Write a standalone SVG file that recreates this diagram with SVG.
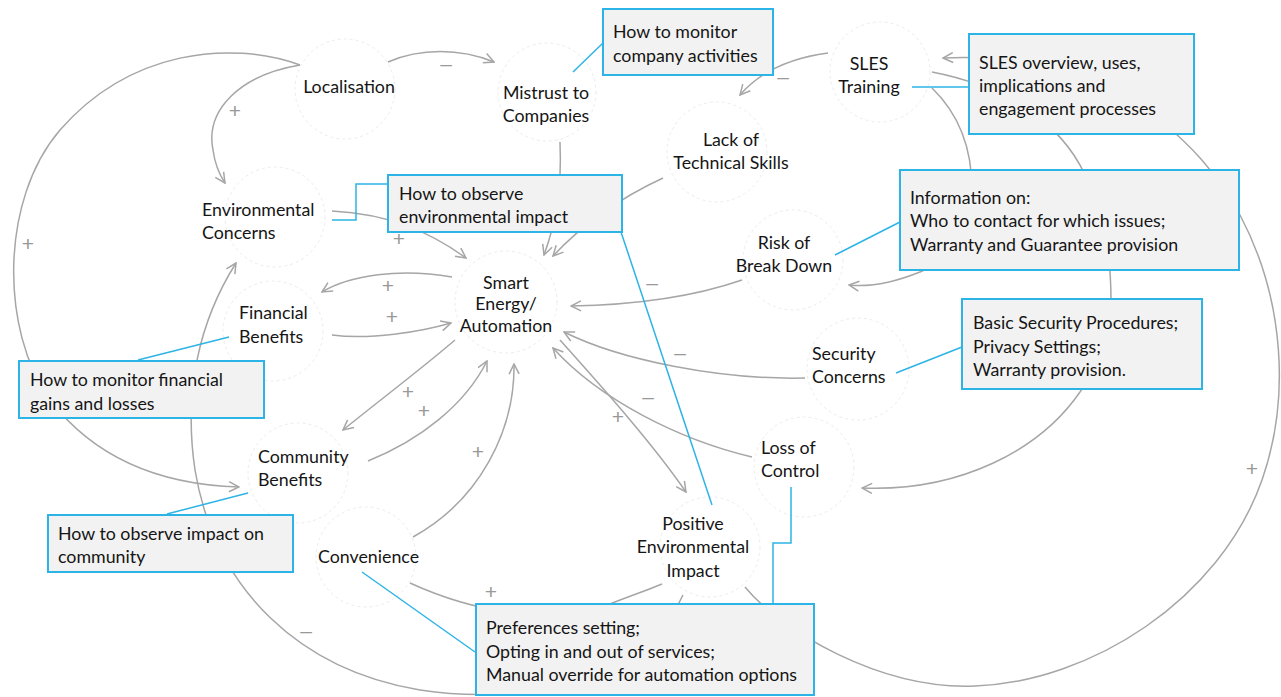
<svg xmlns="http://www.w3.org/2000/svg" width="1281" height="697" viewBox="0 0 1281 697">
<defs>
<marker id="arr" viewBox="0 0 12 12" refX="11" refY="6" markerWidth="12" markerHeight="12" markerUnits="userSpaceOnUse" orient="auto">
<path d="M1,1 L11,6 L1,11" fill="none" stroke="#a6a6a6" stroke-width="1.5"/>
</marker>
<style>
.bg{fill:#ffffff}
.node circle{fill:none;stroke:#ececec;stroke-width:1;stroke-dasharray:3 3}
.t{font-family:Lato,"Liberation Sans",sans-serif;font-size:17.8px;fill:#151515}
.c{text-anchor:middle}
.con path{fill:none;stroke:#a6a6a6;stroke-width:1.5}
.arrow{marker-end:url(#arr)}
.sign{font-family:"Liberation Sans",sans-serif;font-size:21px;fill:#999999;text-anchor:middle}
.box rect{fill:#f2f2f2;stroke:#2db4e6;stroke-width:2}
.lead{fill:none;stroke:#2db4e6;stroke-width:1.5}
</style>
</defs>
<rect class="bg" x="0" y="0" width="1281" height="697"/>

<g id="circles">
<g class="node"><circle cx="345" cy="89" r="50"/></g>
<g class="node"><circle cx="547" cy="92" r="49"/></g>
<g class="node"><circle cx="880" cy="72" r="50"/></g>
<g class="node"><circle cx="717" cy="152" r="50"/></g>
<g class="node"><circle cx="275" cy="217" r="50"/></g>
<g class="node"><circle cx="273" cy="331" r="50"/></g>
<g class="node"><circle cx="506" cy="302" r="51"/></g>
<g class="node"><circle cx="793" cy="260" r="50"/></g>
<g class="node"><circle cx="858" cy="369" r="51"/></g>
<g class="node"><circle cx="804" cy="467" r="50"/></g>
<g class="node"><circle cx="298" cy="473" r="50"/></g>
<g class="node"><circle cx="366" cy="557" r="50"/></g>
<g class="node"><circle cx="710" cy="547" r="50"/></g>
</g>

<g id="connectors" class="con">
<path class="arrow" d="M388,62 C420,48 460,48 494,62"/>
<path class="arrow" d="M300,65 C240,75 205,110 213,150 C215,165 219,174 225,183"/>
<path class="arrow" d="M300,65 C230,40 130,50 60,130 C0,200 0,330 50,400 C100,465 170,485 239,487"/>
<path class="arrow" d="M332,211 C390,214 430,232 466,258"/>
<path class="arrow" d="M560,142 C562,190 556,222 544,255"/>
<path class="arrow" d="M663,178 C620,198 582,225 553,256"/>
<path class="arrow" d="M828,53 C790,58 760,72 740,95"/>
<path class="arrow" d="M742,280 C690,298 630,305 571,306"/>
<path class="arrow" d="M805,378 C720,380 620,360 564,332"/>
<path class="arrow" d="M752,457 C680,440 600,400 553,348"/>
<path class="arrow" d="M560,340 C600,385 650,440 686,492"/>
<path class="arrow" d="M452,277 C400,268 350,275 322,292"/>
<path class="arrow" d="M332,335 C370,340 420,332 451,323"/>
<path class="arrow" d="M455,340 C420,370 380,400 343,430"/>
<path class="arrow" d="M368,461 C420,440 465,405 487,361"/>
<path class="arrow" d="M413,537 C480,500 515,430 514,364"/>
<path d="M410,583 C480,615 560,625 610,604 C630,596 648,590 662,584"/>
<path class="arrow" d="M683,595 C640,685 520,705 420,690 C300,670 215,590 195,470 C183,390 200,320 236,263"/>
<path class="arrow" d="M745,587 C780,630 880,690 975,686 C1090,682 1220,600 1262,480 C1290,400 1285,300 1240,215 C1215,170 1190,145 1160,120 C1090,65 1010,55 943,58"/>
<path class="arrow" d="M932,72 C1000,85 1060,120 1085,175 C1105,215 1111,260 1111,300 C1111,340 1098,368 1080,392 C1040,450 960,492 862,488"/>
<path class="arrow" d="M932,88 C960,115 972,150 972,190 C972,240 945,262 920,272 C900,280 875,288 849,285"/>
</g>

<g id="signs">
<text class="sign" x="446" y="71">–</text>
<text class="sign" x="235" y="118">+</text>
<text class="sign" x="28" y="251">+</text>
<text class="sign" x="399" y="246">+</text>
<text class="sign" x="783" y="84">–</text>
<text class="sign" x="652" y="290">–</text>
<text class="sign" x="680" y="360">–</text>
<text class="sign" x="648" y="404">–</text>
<text class="sign" x="618" y="424">+</text>
<text class="sign" x="388" y="293">+</text>
<text class="sign" x="392" y="324">+</text>
<text class="sign" x="408" y="399">+</text>
<text class="sign" x="424" y="418">+</text>
<text class="sign" x="478" y="459">+</text>
<text class="sign" x="491" y="599">+</text>
<text class="sign" x="306" y="638">–</text>
<text class="sign" x="1252" y="476">+</text>
</g>

<g id="box-company" class="box">
<rect x="603" y="9" width="170" height="66"/>
<text class="t" x="613" y="38">How to monitor</text>
<text class="t" x="613" y="62">company activities</text>
</g>
<g id="box-sles" class="box">
<rect x="969" y="34" width="225" height="100"/>
<text class="t" x="979" y="69">SLES overview, uses,</text>
<text class="t" x="979" y="92">implications and</text>
<text class="t" x="979" y="115">engagement processes</text>
</g>
<g id="box-envimpact" class="box">
<rect x="388" y="175" width="234" height="57"/>
<text class="t" x="399" y="200">How to observe</text>
<text class="t" x="399" y="223">environmental impact</text>
</g>
<g id="box-info" class="box">
<rect x="900" y="170" width="339" height="100"/>
<text class="t" x="910" y="204">Information on:</text>
<text class="t" x="910" y="227">Who to contact for which issues;</text>
<text class="t" x="910" y="251">Warranty and Guarantee provision</text>
</g>
<g id="box-security" class="box">
<rect x="962" y="299" width="240" height="90"/>
<text class="t" x="973" y="329">Basic Security Procedures;</text>
<text class="t" x="973" y="353">Privacy Settings;</text>
<text class="t" x="973" y="376">Warranty provision.</text>
</g>
<g id="box-financial" class="box">
<rect x="19" y="361" width="245" height="57"/>
<text class="t" x="30" y="386">How to monitor financial</text>
<text class="t" x="30" y="410">gains and losses</text>
</g>
<g id="box-community" class="box">
<rect x="48" y="515" width="245" height="57"/>
<text class="t" x="58" y="540">How to observe impact on</text>
<text class="t" x="58" y="563">community</text>
</g>
<g id="box-preferences" class="box">
<rect x="476" y="604" width="338" height="91"/>
<text class="t" x="486" y="634">Preferences setting;</text>
<text class="t" x="486" y="658">Opting in and out of services;</text>
<text class="t" x="486" y="681">Manual override for automation options</text>
</g>

<g id="leaders">
<path class="lead" d="M573,72 L603,43"/>
<path class="lead" d="M912,87 L969,87"/>
<path class="lead" d="M332,220 L356,220 L356,184 L388,184"/>
<path class="lead" d="M621,232 L712,505"/>
<path class="lead" d="M835,255 L900,222"/>
<path class="lead" d="M896,373 L962,347"/>
<path class="lead" d="M138,360 L229,337"/>
<path class="lead" d="M167,514 L248,493"/>
<path class="lead" d="M362,572 L475,652"/>
<path class="lead" d="M791,487 L791,543 L773,543 L773,604"/>
</g>

<g id="labels">
<g id="n-localisation"><text class="t c" x="349" y="93">Localisation</text></g>
<g id="n-mistrust"><text class="t c" x="546" y="99">Mistrust to</text><text class="t c" x="546" y="122">Companies</text></g>
<g id="n-sles"><text class="t c" x="869" y="70">SLES</text><text class="t c" x="869" y="93">Training</text></g>
<g id="n-skills"><text class="t c" x="731" y="146">Lack of</text><text class="t c" x="731" y="169">Technical Skills</text></g>
<g id="n-envconcerns"><text class="t" x="202" y="216">Environmental</text><text class="t" x="202" y="239">Concerns</text></g>
<g id="n-financial"><text class="t" x="239" y="319">Financial</text><text class="t" x="239" y="343">Benefits</text></g>
<g id="n-smart"><text class="t c" x="506" y="289">Smart</text><text class="t c" x="506" y="310">Energy/</text><text class="t c" x="506" y="332">Automation</text></g>
<g id="n-risk"><text class="t c" x="784" y="249">Risk of</text><text class="t c" x="784" y="272">Break Down</text></g>
<g id="n-security"><text class="t" x="812" y="360">Security</text><text class="t" x="812" y="383">Concerns</text></g>
<g id="n-loss"><text class="t" x="761" y="454">Loss of</text><text class="t" x="761" y="477">Control</text></g>
<g id="n-community"><text class="t" x="258" y="463">Community</text><text class="t" x="258" y="486">Benefits</text></g>
<g id="n-convenience"><text class="t" x="318" y="563">Convenience</text></g>
<g id="n-pei"><text class="t c" x="693" y="530">Positive</text><text class="t c" x="693" y="553">Environmental</text><text class="t c" x="693" y="577">Impact</text></g>
</g>
</svg>
